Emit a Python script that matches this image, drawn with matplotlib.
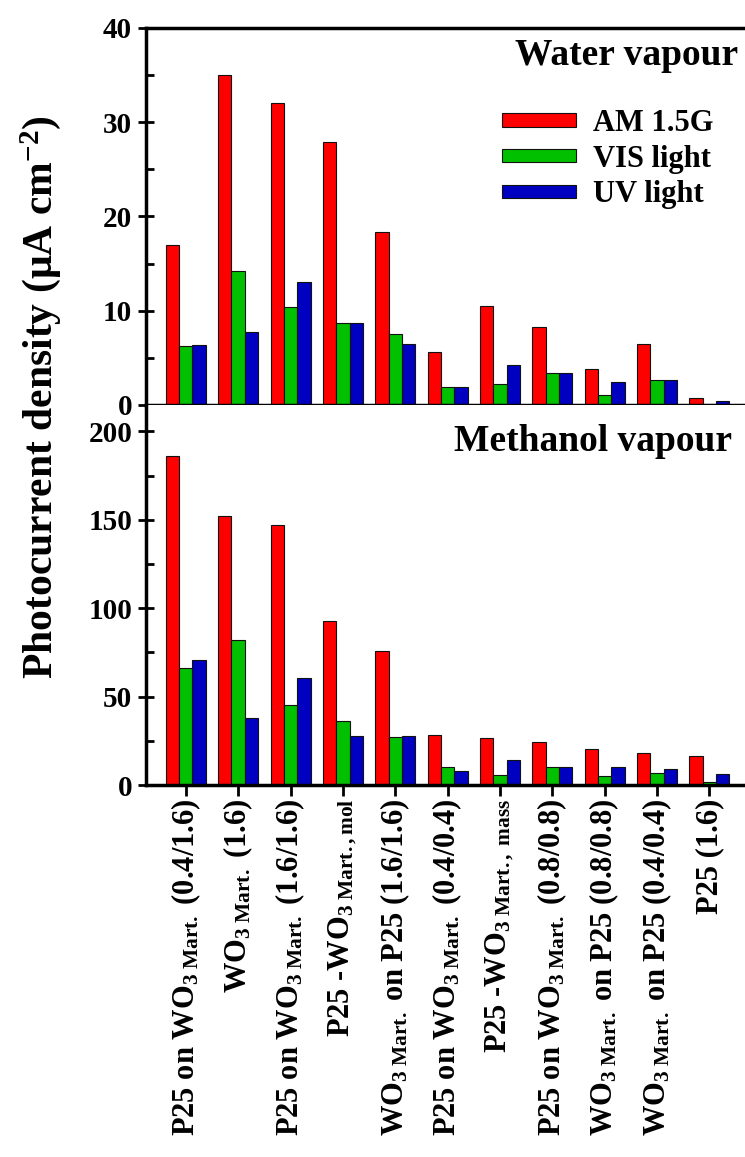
import numpy as np
import matplotlib
matplotlib.use("Agg")
import matplotlib.pyplot as plt
from matplotlib.ticker import MultipleLocator

plt.rcParams['font.family'] = ['Liberation Serif', 'DejaVu Serif']
plt.rcParams['font.weight'] = 'bold'
plt.rcParams['mathtext.fontset'] = 'custom'
plt.rcParams['mathtext.rm'] = 'Liberation Serif:bold'
plt.rcParams['mathtext.it'] = 'Liberation Serif:bold:italic'
plt.rcParams['mathtext.bf'] = 'Liberation Serif:bold'

# samples (same order in both panels)
samples = [
    r"P25 on WO$_{\mathrm{3\ Mart.}}$ (0.4/1.6)",
    r"WO$_{\mathrm{3\ Mart.}}$ (1.6)",
    r"P25 on WO$_{\mathrm{3\ Mart.}}$ (1.6/1.6)",
    r"P25 -WO$_{\mathrm{3\ Mart.,mol}}$",
    r"WO$_{\mathrm{3\ Mart.}}$ on P25 (1.6/1.6)",
    r"P25 on WO$_{\mathrm{3\ Mart.}}$ (0.4/0.4)",
    r"P25 -WO$_{\mathrm{3\ Mart.,\ mass}}$",
    r"P25 on WO$_{\mathrm{3\ Mart.}}$ (0.8/0.8)",
    r"WO$_{\mathrm{3\ Mart.}}$ on P25 (0.8/0.8)",
    r"WO$_{\mathrm{3\ Mart.}}$ on P25 (0.4/0.4)",
    "P25 (1.6)",
]
series = ["AM 1.5G", "VIS light", "UV light"]

# water vapour, uA cm-2
water_am = [17.0, 35.0, 32.0, 27.9, 18.4, 5.6, 10.5, 8.3, 3.8, 6.5, 0.7]
water_vis = [6.3, 14.2, 10.4, 8.7, 7.5, 1.9, 2.2, 3.4, 1.1, 2.7, 0.05]
water_uv = [6.4, 7.7, 13.0, 8.7, 6.5, 1.9, 4.2, 3.4, 2.4, 2.7, 0.4]

# methanol vapour, uA cm-2
meoh_am = [186, 152, 147, 93, 76, 28.5, 26.5, 24.5, 20.5, 18, 16.5]
meoh_vis = [66, 82, 45, 36, 27, 10, 5.5, 10, 5, 7, 1.5]
meoh_uv = [71, 38, 60.5, 28, 28, 8, 14, 10, 10, 9, 6.5]

colors = ['#FF0000', '#00C000', '#0000C0']

fig = plt.figure(figsize=(7.45, 11.57), dpi=100)
ax1 = fig.add_axes([0.196, 0.650, 0.804, 0.3258])
ax2 = fig.add_axes([0.196, 0.3215, 0.804, 0.3285])

x = np.arange(len(samples))
w = 0.255

def draw(ax, data):
    for i, (vals, c) in enumerate(zip(data, colors)):
        ax.bar(x + (i - 1) * w, vals, w, color=c, edgecolor='#111111',
               linewidth=0.8, label=series[i])
    ax.set_xlim(-0.76, 10.68)
    ax.spines['right'].set_visible(False)
    for s in ['top', 'left', 'bottom']:
        ax.spines[s].set_linewidth(2.5)
    ax.tick_params(axis='y', which='major', direction='inout', length=12,
                   width=2, labelsize=21, pad=4)
    ax.tick_params(axis='y', which='minor', direction='in', length=6, width=2)

draw(ax1, [water_am, water_vis, water_uv])
draw(ax2, [meoh_am, meoh_vis, meoh_uv])

ax1.set_ylim(0, 40)
ax1.yaxis.set_major_locator(MultipleLocator(10))
ax1.yaxis.set_minor_locator(MultipleLocator(5))
ax1.set_xticks([])

ax2.set_ylim(0, 215)
ax2.yaxis.set_major_locator(MultipleLocator(50))
ax2.yaxis.set_minor_locator(MultipleLocator(25))
ax2.spines['top'].set_visible(False)
ax2.set_xticks(x)
ax2.set_xticklabels(samples, rotation=90, ha='center', va='top', fontsize=22)
ax2.tick_params(axis='x', direction='out', length=8, width=2, pad=2)

ax1.text(0.988, 0.928, "Water vapour", transform=ax1.transAxes,
         ha='right', va='center', fontsize=27)
ax2.text(0.978, 0.903, "Methanol vapour", transform=ax2.transAxes,
         ha='right', va='center', fontsize=27)

ax1.legend(loc='upper left', bbox_to_anchor=(0.595, 0.785), frameon=False,
           fontsize=22, handlelength=2.4, handleheight=0.3, labelspacing=0.22,
           handletextpad=0.55, borderpad=0, borderaxespad=0)

fig.text(0.054, 0.657, r"Photocurrent density ($\mathrm{\mu}$A cm$^{\mathrm{-2}}$)",
         rotation=90, ha='center', va='center', fontsize=30)

fig.savefig("out.png", dpi=100)
